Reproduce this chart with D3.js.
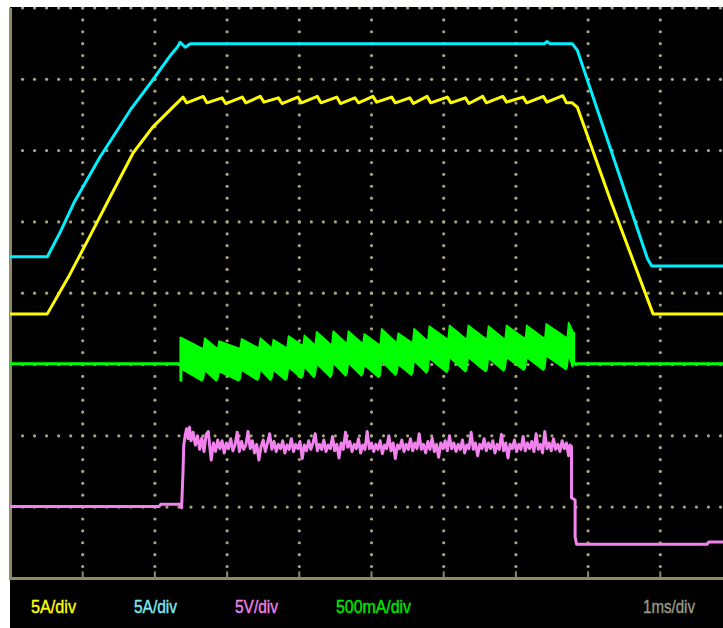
<!DOCTYPE html>
<html><head><meta charset="utf-8">
<script src="https://cdn.jsdelivr.net/npm/d3@7"></script>
<style>html,body{margin:0;padding:0;background:#fff;overflow:hidden} svg{display:block}</style>
</head><body>
<svg id="c" width="723" height="628"></svg>
<script>
// ---------- axis / grid definitions (divisions) ----------
const timeDivisions = [0,1,2,3,4,5,6,7,8,9,10];      // ms (1 ms/div)
const levelDivisions = [0,1,2,3,4,5,6,7,8];          // vertical divisions
const minorPerDivision = 6;

// ---------- labels ----------
const channelLabels = ["5A/div", "5A/div", "5V/div", "500mA/div"];
const channelColors = ["#ffff00", "#80e8f2", "#ef82ee", "#00e600"];
const timebaseLabel = "1ms/div";

// ---------- series (time in ms, level in divisions) ----------
const cyanTrace = [
  [0,4.51],[0.51,4.51],[0.69,4.86],[0.89,5.29],[1.24,5.91],[1.66,6.57],[1.97,6.99],
  [2.21,7.33],[2.31,7.45],[2.35,7.52],[2.42,7.45],[2.49,7.50],[7.40,7.50],[7.43,7.53],
  [7.47,7.50],[7.78,7.50],[7.85,7.41],[8.82,4.49],[8.88,4.38],[10,4.38]
];

const yellowRise = [
  [0,3.71],[0.51,3.71],[0.82,4.26],[1.10,4.80],[1.38,5.35],[1.70,5.97],[1.97,6.33],[2.25,6.61]
];
const yellowPeakT = [2.39,2.67,2.93,3.21,3.46,3.71,3.98,4.25,4.52,4.77,5.02,5.28,5.53,5.77,6.05,6.30,6.54,6.82,7.10,7.38,7.65];
const yellowPeakV = [6.75,6.76,6.74,6.75,6.76,6.74,6.75,6.76,6.75,6.74,6.76,6.75,6.74,6.76,6.75,6.74,6.76,6.76,6.75,6.76,6.77];
const yellowTroughT = [2.44,2.72,2.98,3.26,3.51,3.76,4.03,4.30,4.57,4.82,5.07,5.33,5.58,5.82,6.10,6.35,6.59,6.87,7.15,7.43,7.70];
const yellowTroughV = [6.67,6.67,6.66,6.67,6.68,6.66,6.67,6.67,6.66,6.67,6.68,6.67,6.66,6.67,6.67,6.66,6.67,6.68,6.67,6.68,6.67];
const yellowFall = [[7.78,6.67],[7.85,6.61],[8.30,5.33],[8.90,3.71],[10,3.71]];

const greenLevel = 3.01;
const greenStartT = 2.36;
const greenTeethT = [2.36,2.67,2.87,3.18,3.44,3.62,3.83,4.05,4.22,4.45,4.66,4.88,5.12,5.35,5.57,5.78,6.06,6.32,6.60,6.85,7.13,7.40,7.71];
const greenEndT = 7.80;
const greenTopPeak = [3.37,3.37,3.33,3.36,3.37,3.35,3.40,3.41,3.46,3.47,3.47,3.43,3.50,3.44,3.50,3.54,3.55,3.55,3.54,3.55,3.55,3.57,3.59];
const greenTopEnd  = [3.22,3.22,3.22,3.23,3.23,3.23,3.26,3.27,3.27,3.29,3.29,3.27,3.30,3.30,3.33,3.35,3.35,3.35,3.35,3.36,3.36,3.37,3.44];
const greenBotStart= [2.93,2.92,2.90,2.92,2.93,2.92,2.96,2.97,3.01,3.02,3.02,2.99,3.05,3.00,3.05,3.09,3.10,3.10,3.09,3.10,3.10,3.12,3.15];
const greenBotEnd  = [2.80,2.80,2.80,2.81,2.81,2.81,2.84,2.85,2.85,2.87,2.87,2.85,2.88,2.88,2.91,2.92,2.93,2.93,2.94,2.95,2.95,2.96,3.00];

const pinkTrace = [
  [0,1.01],[2.06,1.01],[2.08,1.04],[2.35,1.04],[2.37,0.99],[2.39,1.52],[2.40,1.87],
  [2.42,2.01],[2.44,2.10],[2.46,1.96],[2.48,2.12],[2.50,1.93],[2.53,2.05],[2.56,1.87],[2.59,2.00],[2.62,1.81],
  [2.65,1.97],[2.68,1.78],[2.71,2.02],[2.74,2.06],[2.76,1.85],[2.78,1.66],[2.81,1.90],[2.84,1.78],[2.87,1.94],
  [2.90,1.82],[2.93,1.93],[2.96,1.76],[2.99,1.90],[3.02,1.82],[3.05,1.96],[3.08,1.79],[3.11,1.87],[3.14,2.05],
  [3.17,1.78],[3.20,1.92],[3.23,1.81],[3.26,1.87],[3.29,2.06],[3.32,1.82],[3.35,1.93],[3.38,1.76],[3.41,1.88],
  [3.44,1.66],[3.47,1.85],[3.50,1.94],[3.53,1.78],[3.56,1.90],[3.59,2.03],[3.62,1.81],[3.65,1.92],[3.68,1.78],
  [3.71,1.88],[3.74,1.82],[3.77,1.93],[3.80,1.76],[3.83,1.87],[3.86,1.81],[3.89,1.96],[3.92,1.78],[3.95,1.88],
  [3.98,1.82],[4.01,1.92],[4.04,1.68],[4.07,1.87],[4.10,1.79],[4.13,1.93],[4.16,1.81],[4.19,1.90],[4.22,2.03],
  [4.25,1.79],[4.28,1.88],[4.31,1.81],[4.34,1.94],[4.37,1.78],[4.40,1.87],[4.43,1.82],[4.46,1.99],[4.49,1.79],
  [4.52,1.88],[4.55,1.69],[4.58,1.90],[4.61,1.81],[4.64,2.05],[4.67,1.84],[4.70,1.92],[4.73,1.78],[4.76,1.88],
  [4.79,1.82],[4.82,1.96],[4.85,1.76],[4.88,1.87],[4.91,1.81],[4.94,2.06],[4.97,1.82],[5.00,1.90],[5.03,1.78],
  [5.06,1.88],[5.09,1.81],[5.12,1.93],[5.15,1.75],[5.18,1.87],[5.21,1.82],[5.24,2.00],[5.27,1.79],[5.30,1.90],
  [5.33,1.68],[5.36,1.87],[5.39,1.82],[5.42,1.94],[5.45,1.78],[5.48,1.88],[5.51,1.81],[5.54,1.96],[5.57,1.79],
  [5.60,1.90],[5.63,1.82],[5.66,2.03],[5.69,1.81],[5.72,1.88],[5.75,1.76],[5.78,1.92],[5.81,1.81],[5.84,1.97],
  [5.87,1.78],[5.90,1.88],[5.93,1.70],[5.96,1.90],[5.99,1.82],[6.02,1.93],[6.05,1.79],[6.08,2.00],[6.11,1.82],
  [6.14,1.90],[6.17,1.78],[6.20,1.88],[6.23,1.81],[6.26,1.94],[6.29,1.76],[6.32,1.87],[6.35,1.82],[6.38,2.05],
  [6.41,1.81],[6.44,1.90],[6.47,1.72],[6.50,1.88],[6.53,1.82],[6.56,1.96],[6.59,1.79],[6.62,1.90],[6.65,1.82],
  [6.68,1.93],[6.71,1.76],[6.74,1.88],[6.77,1.81],[6.80,2.02],[6.83,1.79],[6.86,1.90],[6.89,1.69],[6.92,1.88],
  [6.95,1.82],[6.98,1.94],[7.01,1.78],[7.04,1.88],[7.07,1.81],[7.10,1.99],[7.13,1.79],[7.16,1.90],[7.19,1.82],
  [7.22,1.92],[7.25,1.78],[7.28,2.03],[7.31,1.81],[7.34,1.88],[7.37,1.76],[7.40,2.06],[7.43,1.82],[7.46,1.90],
  [7.49,1.79],[7.52,1.96],[7.55,1.81],[7.58,1.88],[7.61,1.78],[7.64,1.93],[7.67,1.82],[7.70,1.90],[7.73,1.72],
  [7.75,1.87],[7.77,1.85],[7.77,1.13],[7.82,1.10],[7.82,0.58],[7.84,0.48],[9.65,0.48],[9.67,0.51],[10,0.51]
];

// ---------- drawing ----------
const W = 723, H = 628;
const svg = d3.select("#c");
const screen = {left: 10, top: 7, bottom: 580};

const x = d3.scaleLinear().domain([0, 10]).range([10.5, 732.5]);
const y = d3.scaleLinear().domain([0, 8]).range([578.4, 8]);

svg.append("rect").attr("x", 0).attr("y", 0).attr("width", W).attr("height", H).attr("fill", "#fff");
svg.append("rect").attr("x", screen.left).attr("y", screen.top).attr("width", W - screen.left).attr("height", H - screen.top).attr("fill", "#000");

svg.append("clipPath").attr("id", "scr").append("rect")
  .attr("x", screen.left).attr("y", screen.top).attr("width", W - screen.left).attr("height", screen.bottom - screen.top);

const gridColor = "#a8a47f";
const grid = svg.append("g").attr("clip-path", "url(#scr)");

// dotted vertical lines
timeDivisions.slice(1).forEach(t => {
  const dots = d3.range(1, (levelDivisions.length - 1) * minorPerDivision + 1).map(k => k / minorPerDivision);
  grid.selectAll(null).data(dots).enter().append("circle")
    .attr("cx", x(t)).attr("cy", d => y(d)).attr("r", 1.6).attr("fill", gridColor);
});
// dotted horizontal lines
levelDivisions.slice(1).forEach(v => {
  const dots = d3.range(1, (timeDivisions.length - 1) * minorPerDivision + 1).map(k => k / minorPerDivision);
  grid.selectAll(null).data(dots).enter().append("circle")
    .attr("cx", d => x(d)).attr("cy", y(v)).attr("r", 1.6).attr("fill", gridColor);
});

// borders
const borderColor = "#8f8b68";
svg.append("line").attr("x1", x(0)).attr("x2", x(0)).attr("y1", screen.top + 1).attr("y2", y(0) + 1.5)
  .attr("stroke", borderColor).attr("stroke-width", 3);
svg.append("line").attr("x1", screen.left).attr("x2", W).attr("y1", y(0)).attr("y2", y(0))
  .attr("stroke", borderColor).attr("stroke-width", 3);
// major ticks on bottom border
svg.selectAll(null).data(timeDivisions.slice(1, -1)).enter().append("line")
  .attr("x1", d => x(d)).attr("x2", d => x(d)).attr("y1", y(0) - 7).attr("y2", y(0))
  .attr("stroke", borderColor).attr("stroke-width", 2);

// traces
const traces = svg.append("g").attr("clip-path", "url(#scr)");
const line = d3.line().x(d => x(d[0])).y(d => y(d[1]));

function drawTrace(data, color, w) {
  traces.append("path").attr("d", line(data)).attr("fill", "none")
    .attr("stroke", color).attr("stroke-width", w || 3).attr("stroke-linejoin", "round").attr("stroke-linecap", "round");
}

// yellow
const yellowTrace = yellowRise.slice();
yellowPeakT.forEach((t, i) => { yellowTrace.push([t, yellowPeakV[i]]); yellowTrace.push([yellowTroughT[i], yellowTroughV[i]]); });
yellowFall.forEach(p => yellowTrace.push(p));
drawTrace(yellowTrace, "#ffff00");

// cyan
drawTrace(cyanTrace, "#00f0ff");

// pink
drawTrace(pinkTrace, "#f282ee");

// green
const greenColor = "#00ff00";
drawTrace([[0, greenLevel], [greenStartT, greenLevel]], greenColor);
drawTrace([[greenEndT, greenLevel], [10, greenLevel]], greenColor);
const rise = 0.02;
const bandTop = [], bandBot = [];
greenTeethT.forEach((t, i) => {
  const tNext = i + 1 < greenTeethT.length ? greenTeethT[i + 1] : greenEndT;
  bandTop.push([t + rise, greenTopPeak[i]], [tNext, greenTopEnd[i]]);
  bandBot.push([t + rise, greenBotStart[i]], [tNext - rise, greenBotEnd[i] - 0.03], [tNext, greenBotEnd[i]]);
});
const band = bandTop.concat(bandBot.reverse());
traces.append("path").attr("d", line(band) + "Z").attr("fill", greenColor)
  .attr("stroke", greenColor).attr("stroke-width", 1.5).attr("stroke-linejoin", "round");
drawTrace([[greenStartT, greenTopPeak[0]], [greenStartT, 2.78]], greenColor);
drawTrace([[greenEndT, greenTopEnd[greenTopEnd.length - 1]], [greenEndT, greenLevel]], greenColor);

// labels
const labelX = [31, 134, 235, 336];
const labelW = [45, 43, 43, 75];
const font = "'Liberation Sans', Arial, sans-serif";
channelLabels.forEach((s, i) => {
  svg.append("text").attr("x", labelX[i]).attr("y", 613).text(s)
    .attr("fill", channelColors[i]).attr("stroke", channelColors[i]).attr("stroke-width", 0.4)
    .attr("font-family", font).attr("font-size", 19)
    .attr("textLength", labelW[i]).attr("lengthAdjust", "spacingAndGlyphs");
});
svg.append("text").attr("x", 643).attr("y", 613).text(timebaseLabel)
  .attr("fill", "#9c9a82").attr("stroke", "#9c9a82").attr("stroke-width", 0.4)
  .attr("font-family", font).attr("font-size", 19)
  .attr("textLength", 52).attr("lengthAdjust", "spacingAndGlyphs");
</script>
</body></html>
